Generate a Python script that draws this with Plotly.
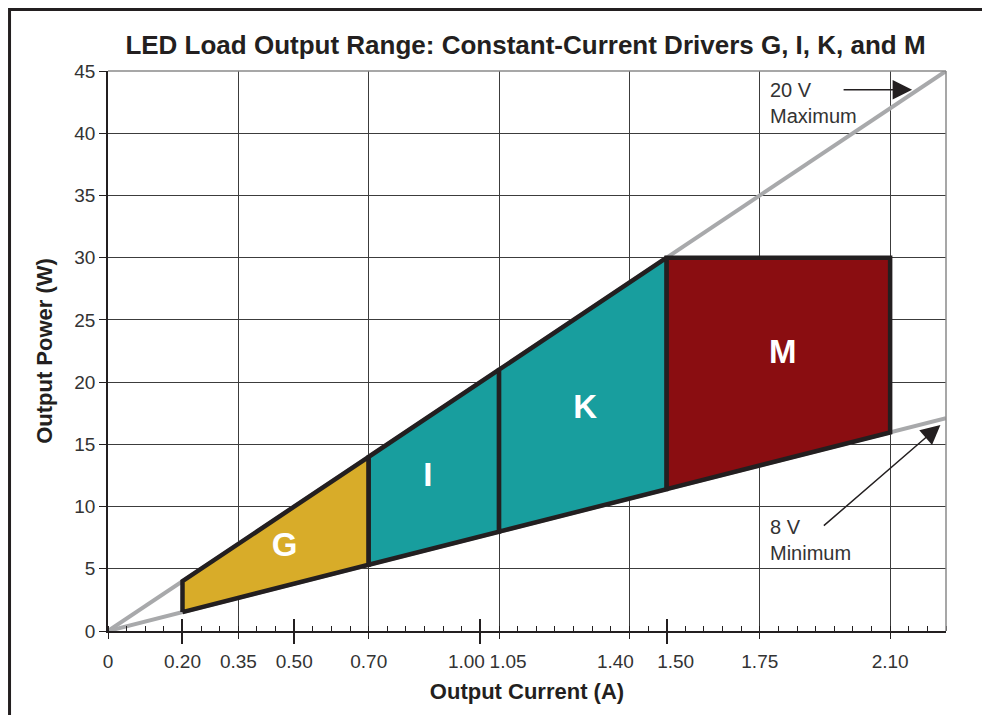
import plotly.graph_objects as go

# ---- data ----
x_max_line = [0, 2.25]
y_max_line = [0, 45]          # 20 V maximum
x_min_line = [0, 2.25]
y_min_line = [0, 17.1]        # 8 V minimum (as drawn)

drivers = ["G", "I", "K", "M"]
i_lo = [0.20, 0.70, 1.05, 1.50]
i_hi = [0.70, 1.05, 1.50, 2.10]
p_lo_left = [1.52, 5.32, 7.98, 11.4]
p_hi_left = [4.0, 14.0, 21.0, 30.0]
p_hi_right = [14.0, 21.0, 30.0, 30.0]
p_lo_right = [5.32, 7.98, 11.4, 15.96]
fills = ["#D8AC29", "#189E9E", "#189E9E", "#8A0D11"]
label_x = [0.474, 0.859, 1.281, 1.812]
label_y = [6.67, 12.3, 17.8, 22.2]

x_tick_vals = [0, 0.20, 0.35, 0.50, 0.70, 1.75, 2.10]
x_tick_text = ["0", "0.20", "0.35", "0.50", "0.70", "1.75", "2.10"]
x_tick_vals_left = [1.00, 1.40]          # labels nudged left
x_tick_text_left = ["1.00", "1.40"]
x_tick_vals_right = [1.05, 1.50]         # labels nudged right
x_tick_text_right = ["1.05", "1.50"]
x_grid_vals = [0, 0.35, 0.70, 1.05, 1.40, 1.75, 2.10]
x_long_ticks = [0.20, 0.50, 1.00, 1.50]
y_tick_vals = [0, 5, 10, 15, 20, 25, 30, 35, 40, 45]

FONT = "Liberation Sans, Arial, Helvetica, sans-serif"
X_RANGE = [0, 2.25]
Y_RANGE = [0, 45]
INK = "#231F20"
GRID = "#3c3c3c"
TXT = "#333333"

fig = go.Figure()

fig.add_trace(go.Scatter(x=x_max_line, y=y_max_line, mode="lines",
                         line=dict(color="#A8A9AB", width=4), hoverinfo="skip", showlegend=False))
fig.add_trace(go.Scatter(x=x_min_line, y=y_min_line, mode="lines",
                         line=dict(color="#A8A9AB", width=4), hoverinfo="skip", showlegend=False))

for k in range(len(drivers)):
    xs = [i_lo[k], i_lo[k], i_hi[k], i_hi[k], i_lo[k]]
    ys = [p_lo_left[k], p_hi_left[k], p_hi_right[k], p_lo_right[k], p_lo_left[k]]
    fig.add_trace(go.Scatter(x=xs, y=ys, mode="lines", fill="toself", fillcolor=fills[k],
                             line=dict(color=INK, width=4.5), hoverinfo="skip",
                             showlegend=False, name=drivers[k]))

fig.add_trace(go.Scatter(x=label_x, y=label_y, mode="text", text=drivers,
                         textfont=dict(family=FONT, size=33, color="white", weight="bold"),
                         hoverinfo="skip", showlegend=False))

common_axis = dict(range=X_RANGE, overlaying="x", anchor="y", showgrid=False,
                   zeroline=False, showline=False, showticklabels=False, fixedrange=True)
label_axis = dict(common_axis, showticklabels=True, ticks="", tickangle=0,
                  ticklabelstandoff=17, tickfont=dict(family=FONT, size=19, color=TXT))

fig.update_layout(
    width=982, height=707,
    margin=dict(l=100, r=44, t=63, b=84),
    paper_bgcolor="white", plot_bgcolor="white",
    title=dict(text="<b>LED Load Output Range: Constant-Current Drivers G, I, K, and M</b>",
               x=0.527, xanchor="center", y=0.948, yanchor="middle",
               font=dict(family=FONT, size=26, color=INK)),
    xaxis=dict(range=X_RANGE, tickvals=x_grid_vals, showticklabels=False,
               ticks="outside", ticklen=6, tickcolor=INK, tickwidth=1.2,
               showgrid=True, gridcolor=GRID, gridwidth=1,
               zeroline=False, showline=True, linecolor=INK, linewidth=1.5,
               minor=dict(tick0=0, dtick=0.05, ticks="inside", ticklen=5,
                          tickcolor=INK, tickwidth=1, showgrid=False),
               title=dict(text="<b>Output Current (A)</b>", standoff=46,
                          font=dict(family=FONT, size=22, color=INK))),
    xaxis2=dict(label_axis, tickvals=x_tick_vals, ticktext=x_tick_text),
    xaxis5=dict(label_axis, tickvals=x_tick_vals_left, ticktext=x_tick_text_left,
                ticklabelshift=-14),
    xaxis6=dict(label_axis, tickvals=x_tick_vals_right, ticktext=x_tick_text_right,
                ticklabelshift=9),
    xaxis3=dict(common_axis, tickvals=x_long_ticks, ticks="outside", ticklen=12,
                tickwidth=2, tickcolor=INK),
    xaxis4=dict(common_axis, tickvals=x_long_ticks, ticks="inside", ticklen=12,
                tickwidth=2, tickcolor=INK),
    yaxis=dict(range=Y_RANGE, tickvals=y_tick_vals, ticks="outside", ticklen=7,
               tickcolor=INK, tickwidth=1.2,
               showgrid=True, gridcolor=GRID, gridwidth=1,
               zeroline=False, showline=True, linecolor=INK, linewidth=1.5,
               tickfont=dict(family=FONT, size=19, color=TXT),
               title=dict(text="<b>Output Power (W)</b>", standoff=16,
                          font=dict(family=FONT, size=22, color=INK))),
    showlegend=False,
)

# dummy invisible traces so overlay axes are drawn
for ax in ["x2", "x3", "x4", "x5", "x6"]:
    fig.add_trace(go.Scatter(x=X_RANGE, y=Y_RANGE, xaxis=ax, yaxis="y", mode="lines",
                             line=dict(width=0), opacity=0, hoverinfo="skip", showlegend=False))

# plot-area top/right border (gray) and outer frame
fig.add_shape(type="line", xref="paper", yref="paper", x0=0, x1=1, y0=1, y1=1,
              line=dict(color="#8a8a8a", width=1.5))
fig.add_shape(type="line", xref="paper", yref="paper", x0=1, x1=1, y0=0, y1=1,
              line=dict(color="#8a8a8a", width=1.5))
fig.add_shape(type="rect", xref="paper", yref="paper", x0=-0.1175, x1=1.2, y0=-0.3, y1=1.1098,
              line=dict(color=INK, width=3), layer="below")

# annotations
fig.add_annotation(x=1.773, y=42.4, xref="x", yref="y", text="20 V<br>Maximum",
                   showarrow=False, xanchor="left", yanchor="middle", align="left",
                   font=dict(family=FONT, size=20, color=TXT))
fig.add_annotation(x=2.159, y=43.5, ax=1.971, ay=43.5, xref="x", yref="y", axref="x", ayref="y",
                   text="", showarrow=True, arrowhead=2, arrowsize=2.6, arrowwidth=1.5,
                   arrowcolor=INK)
fig.add_annotation(x=1.773, y=7.3, xref="x", yref="y", text="8 V<br>Minimum",
                   showarrow=False, xanchor="left", yanchor="middle", align="left",
                   font=dict(family=FONT, size=20, color=TXT))
fig.add_annotation(x=2.235, y=16.56, ax=1.918, ay=8.36, xref="x", yref="y", axref="x", ayref="y",
                   text="", showarrow=True, arrowhead=2, arrowsize=2.6, arrowwidth=1.5,
                   arrowcolor=INK)

fig.write_html("out.html")
